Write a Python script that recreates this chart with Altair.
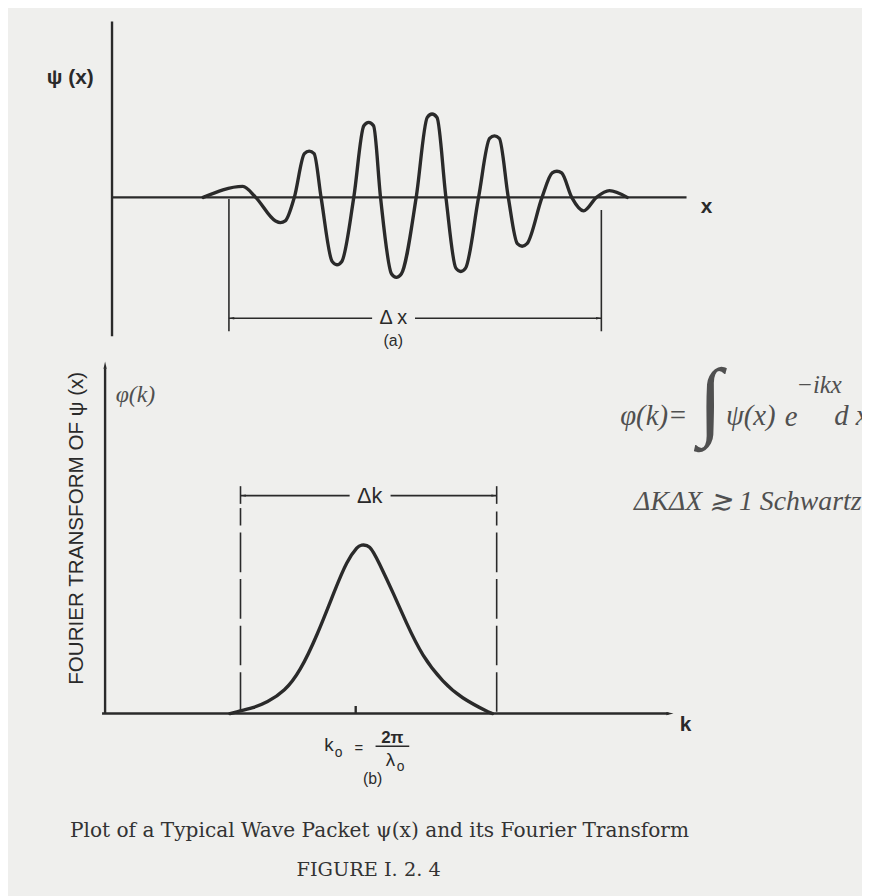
import altair as alt
import pandas as pd

# ---------------- values ----------------
# (a) wave packet psi(x): zero crossings, lobe shoulders and extrema
#     (x in axis units, 0..10)
wave_x = [1.594, 2.288, 2.513,
          2.860, 2.946, 3.030, 3.189,
          3.365, 3.449, 3.535, 3.657,
          3.850, 3.934, 4.020, 4.229,
          4.405, 4.489, 4.575, 4.697,
          4.890, 4.974, 5.060, 5.321,
          5.515, 5.598, 5.685, 5.841,
          6.015, 6.101, 6.185, 6.412,
          6.605, 6.690, 6.775, 6.932,
          7.090, 7.175, 7.260, 7.522,
          7.700, 7.782, 7.865, 8.042,
          8.250, 8.475, 8.700, 9.012]
wave_psi = [0.00, 0.13, 0.00,
            -0.28, -0.30, -0.28, 0.00,
            0.52, 0.55, 0.52, 0.00,
            -0.76, -0.80, -0.76, 0.00,
            0.85, 0.89, 0.85, 0.00,
            -0.91, -0.95, -0.91, 0.00,
            0.95, 0.99, 0.95, 0.00,
            -0.84, -0.88, -0.84, 0.00,
            0.70, 0.73, 0.70, 0.00,
            -0.55, -0.58, -0.55, 0.00,
            0.29, 0.31, 0.29, 0.00,
            -0.16, 0.00, 0.08, 0.00]
delta_x = [2.045, 8.56]          # ends of the Delta-x bracket

# (b) Fourier transform phi(k) (k in axis units, k0 = 5)
k_vals = [2.471, 2.627, 2.922, 3.216, 3.549, 3.863, 4.196, 4.529, 4.784, 4.980,
          5.078, 5.235, 5.431, 5.706, 5.961, 6.294, 6.686, 7.078, 7.529, 7.667]
phi_vals = [0.000, 0.012, 0.035, 0.071, 0.141, 0.265, 0.471, 0.718, 0.894, 0.982,
            1.000, 0.988, 0.888, 0.712, 0.541, 0.347, 0.194, 0.094, 0.018, 0.000]
k0 = 4.96
delta_k = [2.68, 7.75]           # ends of the Delta-k bracket

caption = "Plot of a Typical Wave Packet \u03c8(x) and its Fourier Transform"
fig_label = "FIGURE I. 2. 4"

# ---------------- layout ----------------
W, H = 862, 888
INK = "#2a2a2a"
PEN = "#505050"
BG = "#efefed"
ARROW = "M0,0L-2.4,-0.55L-2.4,0.55Z"


def xdom(origin_page, unit):
    o = origin_page - 8
    return [-o / unit, (W - o) / unit]


def ydom(origin_page, unit):
    o = origin_page - 8
    return [(o - H) / unit, o / unit]


TOP = (xdom(113, 57.7), ydom(195, 85))
BOT = (xdom(106, 51.0), ydom(716, 170))


def enc(dom, seg=False):
    xd, yd = dom
    e = dict(
        x=alt.X("x:Q", scale=alt.Scale(domain=xd, nice=False, zero=False), axis=None),
        y=alt.Y("y:Q", scale=alt.Scale(domain=yd, nice=False, zero=False), axis=None),
    )
    if seg:
        e["x2"] = alt.X2("x2:Q")
        e["y2"] = alt.Y2("y2:Q")
    return e


def segs(rows):
    return pd.DataFrame(rows, columns=["x", "x2", "y", "y2"])


def texts(rows):
    return pd.DataFrame(rows, columns=["t", "x", "y"])


def text_layer(rows, dom, **kw):
    base = dict(color=INK, baseline="middle", align="center")
    base.update(kw)
    return alt.Chart(texts(rows)).mark_text(**base).encode(
        text="t:N", **enc(dom))


def arrows(rows, dom, size):
    df = pd.DataFrame(rows, columns=["x", "y", "a"])
    return alt.Chart(df).mark_point(
        shape=ARROW, filled=True, opacity=1, color=INK, size=size, strokeWidth=0
    ).encode(angle=alt.Angle("a:Q", scale=None), **enc(dom))


# ================= panel (a) =================
wave_df = pd.DataFrame({"x": wave_x, "y": wave_psi})
wave = alt.Chart(wave_df).mark_line(
    interpolate="monotone", color=INK, strokeWidth=3.4,
    strokeCap="round", strokeJoin="round").encode(**enc(TOP))

top_axes = alt.Chart(segs([
    [0, 0, -1.65, 2.09],        # vertical axis
    [0, 10.05, 0, 0],           # x axis
])).mark_rule(color=INK, strokeWidth=2.4).encode(**enc(TOP, seg=True))

top_bracket = alt.Chart(segs([
    [delta_x[0], delta_x[0], -0.02, -1.59],
    [delta_x[1], delta_x[1], -0.15, -1.59],
    [delta_x[0], 4.55, -1.435, -1.435],
    [5.30, delta_x[1], -1.435, -1.435],
])).mark_rule(color=INK, strokeWidth=1.6).encode(**enc(TOP, seg=True))

top_heads = arrows([[delta_x[0], -1.435, 180], [delta_x[1], -1.435, 0]], TOP, 20)

top_labels = alt.layer(
    text_layer([["\u03c8 (x)", -0.73, 1.42]], TOP, font="Liberation Sans",
               fontSize=21, fontWeight="bold"),
    text_layer([["x", 10.4, -0.12]], TOP, font="Liberation Sans",
               fontSize=21, fontWeight="bold"),
    text_layer([["\u0394 x", 4.92, -1.435]], TOP, font="Liberation Sans",
               fontSize=20),
    text_layer([["(a)", 4.92, -1.706]], TOP, font="Liberation Sans", fontSize=16),
)

panel_a = alt.layer(top_axes, top_bracket, top_heads, wave, top_labels)

# ================= panel (b) =================
ft_df = pd.DataFrame({"x": k_vals, "y": phi_vals})
ft = alt.Chart(ft_df).mark_line(
    interpolate="natural", color=INK, strokeWidth=3.4,
    strokeCap="round", strokeJoin="round").encode(**enc(BOT))

bot_axes = alt.Chart(segs([
    [0, 0, 0, 2.05],            # phi axis
    [-0.06, 11.15, 0, 0],       # k axis
    [k0, k0, 0, 0.045],         # tick at k0
])).mark_rule(color=INK, strokeWidth=2.4).encode(**enc(BOT, seg=True))

bot_heads_axes = arrows([[0, 2.09, 270], [11.25, 0, 0]], BOT, 36)

bot_dashed = alt.Chart(segs([
    [delta_k[0], delta_k[0], 0.01, 1.22],
    [delta_k[1], delta_k[1], 0.01, 1.20],
])).mark_rule(color=INK, strokeWidth=1.6, strokeDash=[40, 7]).encode(**enc(BOT, seg=True))

bot_bracket = alt.Chart(segs([
    [delta_k[0], delta_k[0], 1.245, 1.35],
    [delta_k[1], delta_k[1], 1.245, 1.35],
    [delta_k[0], 4.84, 1.294, 1.294],
    [5.65, delta_k[1], 1.294, 1.294],
    [5.353, 6.02, -0.194, -0.194],  # fraction bar of 2pi/lambda0
])).mark_rule(color=INK, strokeWidth=1.6).encode(**enc(BOT, seg=True))

bot_heads = arrows([[delta_k[0], 1.294, 180], [delta_k[1], 1.294, 0]], BOT, 20)

bot_labels = alt.layer(
    text_layer([["FOURIER TRANSFORM OF \u03c8 (x)", -0.55, 1.10]], BOT,
               font="Liberation Sans", fontSize=20.8, angle=270),
    text_layer([["k", 11.49, -0.07]], BOT, font="Liberation Sans", fontSize=21,
               fontWeight="bold"),
    text_layer([["\u0394k", 5.235, 1.294]], BOT, font="Liberation Sans", fontSize=22),
    text_layer([["k", 4.43, -0.19], ["\u03bb", 5.647, -0.276]], BOT,
               font="Liberation Sans", fontSize=19),
    text_layer([["o", 4.62, -0.235], ["o", 5.85, -0.32]], BOT,
               font="Liberation Sans", fontSize=14),
    text_layer([["=", 5.02, -0.206]], BOT, font="Liberation Sans", fontSize=15),
    text_layer([["2\u03c0", 5.686, -0.145]], BOT, font="Liberation Sans",
               fontSize=17, fontWeight="bold"),
    text_layer([["(b)", 5.294, -0.388]], BOT, font="Liberation Sans", fontSize=16),
    # caption
    text_layer([[caption, 5.43, -0.70]], BOT, font="DejaVu Serif", fontSize=20.3,
               color="#333333"),
    text_layer([[fig_label, 5.216, -0.93]], BOT, font="DejaVu Serif", fontSize=19.5,
               color="#333333"),
)

pen = dict(font="Liberation Serif", fontStyle="italic", color=PEN)
notes = alt.layer(
    text_layer([["\u03c6(k)", 0.60, 1.89]], BOT, fontSize=24, **pen),
    text_layer([["\u03c6(k)=", 10.86, 1.765]], BOT, fontSize=29, **pen),
    text_layer([["\u03c8(x)", 12.78, 1.765], ["e", 13.58, 1.76],
                ["d x", 14.77, 1.765]], BOT, fontSize=29, **pen),
    text_layer([["\u222b", 11.98, 1.84]], BOT, fontSize=88, **pen),
    text_layer([["\u2212ikx", 14.13, 1.95]], BOT, fontSize=25, **pen),
    text_layer([["\u0394K\u0394X \u2273 1 Schwartz inequality", 10.47, 1.253]], BOT,
               fontSize=28, align="left", **pen),
)

panel_b = alt.layer(bot_axes, bot_dashed, bot_bracket, bot_heads_axes, bot_heads,
                    ft, bot_labels, notes)

chart = alt.layer(panel_a, panel_b).resolve_scale(
    x="independent", y="independent"
).properties(
    width=W, height=H, padding=0, background=BG,
    autosize=alt.AutoSizeParams(type="none"),
).configure_view(stroke=None)

chart.save("out.html", embed_options={"renderer": "svg", "actions": False})
